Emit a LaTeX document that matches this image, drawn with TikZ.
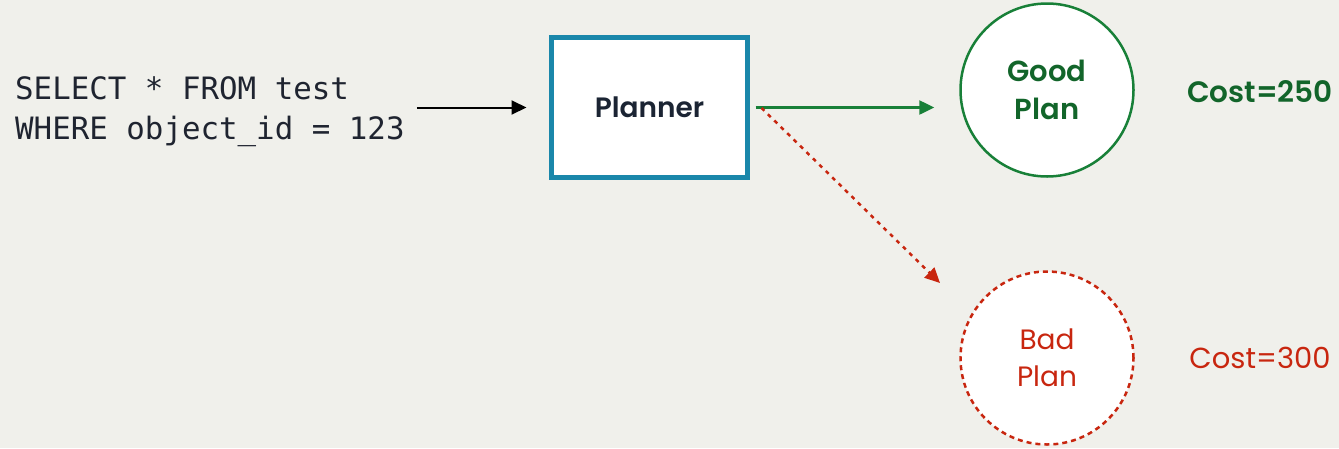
\documentclass[tikz,border=0pt]{standalone}
\usepackage{fontspec}
\setmainfont{Poppins}[BoldFont={Poppins SemiBold}]
\newfontfamily\sqlfont{DejaVu Sans Mono}
\usetikzlibrary{arrows.meta,calc}
\definecolor{bg}{HTML}{F0F0EB}
\definecolor{teal}{HTML}{1A87AA}
\definecolor{navy}{HTML}{1B2433}
\definecolor{gline}{HTML}{188038}
\definecolor{gtext}{HTML}{12652A}
\definecolor{rline}{HTML}{C8260F}
\definecolor{sqlcol}{HTML}{1F2430}
\tikzset{
  sqltext/.style={inner sep=0pt, align=left, text=sqlcol, font=\sqlfont\fontsize{30.8}{40}\selectfont},
  plannerbox/.style={draw=teal, line width=5pt, fill=white, minimum width=196pt, minimum height=140pt, inner sep=0pt, outer sep=0pt, text=navy, font=\bfseries\fontsize{28}{32}\selectfont},
  goodnode/.style={circle, draw=gline, line width=2.5pt, fill=white, minimum size=173pt, inner sep=0pt, align=center, text=gtext, font=\bfseries\fontsize{29}{38}\selectfont},
  badnode/.style={circle, draw=rline, line width=2.5pt, dash pattern=on 5pt off 4pt, fill=white, minimum size=173pt, inner sep=0pt, align=center, text=rline, font=\fontsize{28}{37}\selectfont},
  costgood/.style={inner sep=0pt, text=gtext, font=\bfseries\fontsize{29.5}{34}\selectfont},
  costbad/.style={inner sep=0pt, text=rline, font=\fontsize{29}{34}\selectfont},
  conn/.style={line width=2.5pt, -{Triangle[length=15pt,width=14pt]}},
}
\begin{document}
\begin{tikzpicture}[x=1pt,y=-1pt]
\fill[bg] (0,0) rectangle (1339,448);
\useasboundingbox (0,0) rectangle (1339,448);
\node[sqltext, anchor=west] (sql) at (15,112) {SELECT * FROM test\\WHERE object\_id = 123};
\node[plannerbox] (planner) at (649.5,107.5) {Planner};
\node[goodnode] (good) at (1047,90) {Good\\Plan};
\node[badnode] (bad) at (1047,358) {Bad\\Plan};
\node[costgood] (cg) at (1260,92) {Cost=250};
\node[costbad] (cb) at (1260,358) {Cost=300};
\draw[conn, black, line width=2pt, shorten <=12pt, shorten >=25pt] (sql.east |- planner.west) -- (planner.west);
\draw[conn, gline, shorten <=8pt, shorten >=25pt] (planner.east) -- (good.west |- planner.east);
\coordinate (rs) at ($(planner.east)+(14,0.5)$);
\coordinate (re) at (940,283);
\draw[conn, rline, dash pattern=on 4pt off 5pt] (rs) -- (re);
\end{tikzpicture}
\end{document}
